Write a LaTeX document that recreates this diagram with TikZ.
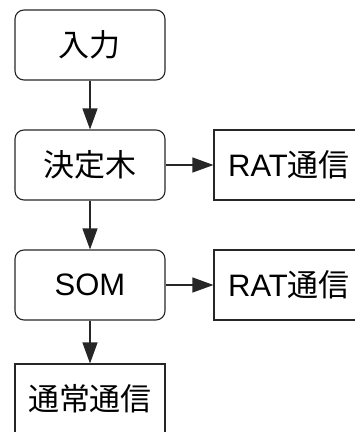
\documentclass[tikz,border=0pt]{standalone}
\usepackage{fontspec}
\setmainfont{Liberation Sans}
\newfontfamily\cjk{Noto Sans CJK JP}
\usetikzlibrary{arrows.meta}
\begin{document}
\begin{tikzpicture}[x=1pt,y=-1pt,
  box/.style={draw=black!85,line width=1.1pt,minimum width=150pt,minimum height=70pt,inner sep=0pt,
    font=\fontsize{31}{35}\selectfont,text=black},
  rbox/.style={box,rounded corners=9pt},
  arr/.style={draw=black!85,line width=1.1pt,-{Triangle[length=21pt,width=15pt]}}]
\useasboundingbox (0,0) rectangle (355,432);
\clip (0,0) rectangle (355,432);
\node[rbox] (in) at (90,45) {\cjk 入力};
\node[rbox] (dt) at (90,165) {\cjk 決定木};
\node[box] (rat1) at (289,165) {RAT{\cjk 通信}};
\node[rbox] (som) at (90,285) {SOM};
\node[box] (rat2) at (289,285) {RAT{\cjk 通信}};
\node[box] (nor) at (90,399) {\cjk 通常通信};
\draw[arr] (in) -- (dt);
\draw[arr] (dt) -- (rat1);
\draw[arr] (dt) -- (som);
\draw[arr] (som) -- (rat2);
\draw[arr] (som) -- (nor);
\end{tikzpicture}
\end{document}
